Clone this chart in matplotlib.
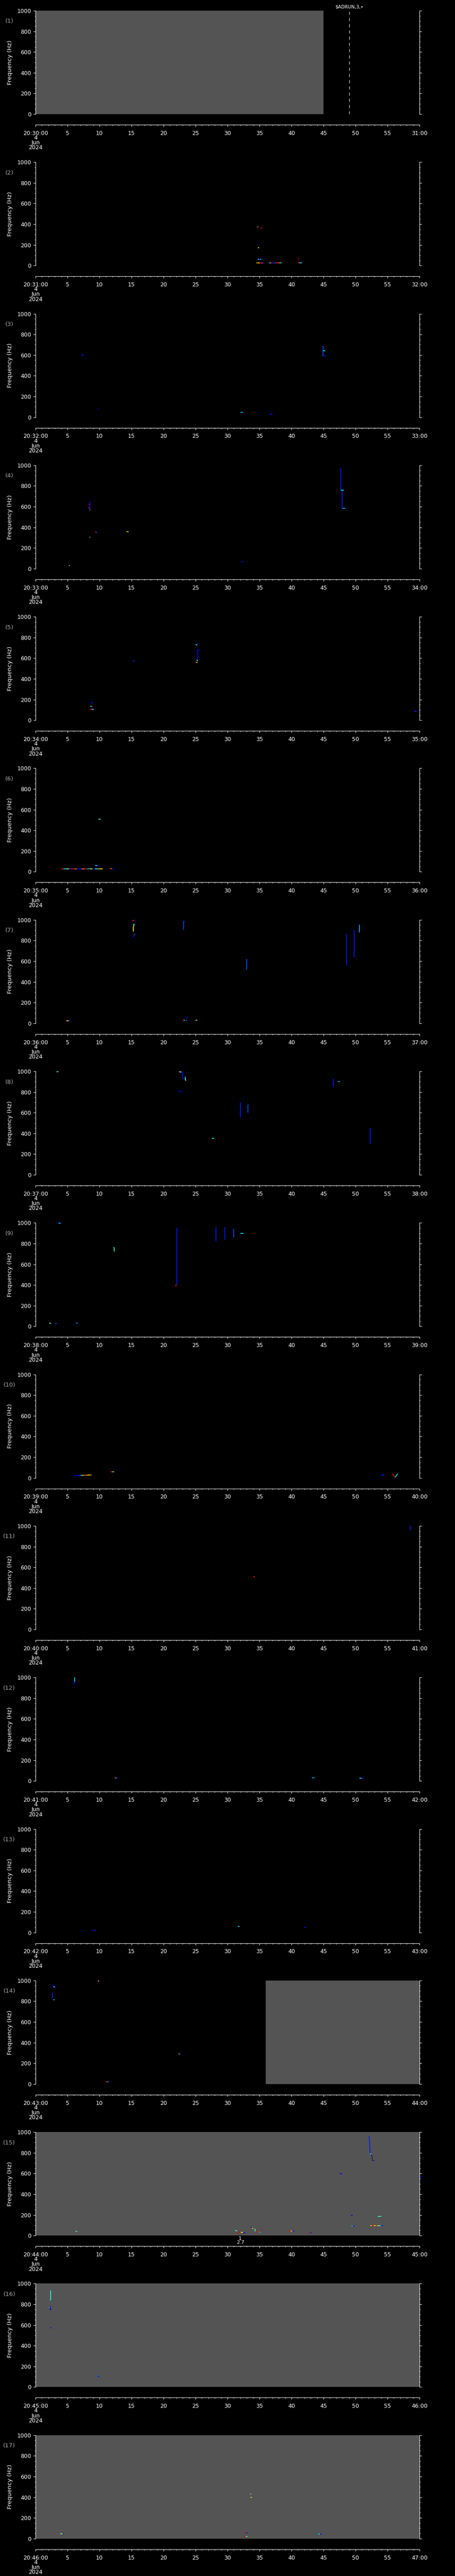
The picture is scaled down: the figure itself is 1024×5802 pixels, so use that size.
import matplotlib
matplotlib.use("Agg")
import matplotlib.pyplot as plt
from matplotlib.ticker import MultipleLocator, FixedLocator, FixedFormatter

plt.rcParams['font.family'] = ['DejaVu Sans']

# ---------------- data ----------------
panel_minutes = list(range(30, 47))          # panels start 20:30 ... 20:46
freq_ticks = [0, 200, 400, 600, 800, 1000]
time_major = list(range(0, 61, 5))
date_label = "4\nJun\n2024"

# gray (no-data) spans in seconds, per panel
gray_01 = [(0, 45)]
gray_14 = [(36, 60)]
gray_15 = [(0, 60)]
gray_16 = [(0, 60)]
gray_17 = [(0, 60)]

marker_time_01 = 49.03
marker_label_01 = "$ADRUN,3,\u2022"

# tracks: (t0 [s], t1 [s], f0 [Hz], f1 [Hz], colour levels 0..1 on jet)
tracks_01 = []
tracks_02 = [
    (34.6, 34.9, 373, 373, [0.3, 0.9]),
    (35.2, 35.45, 366, 364, [0.9]),
    (34.75, 34.95, 175, 172, [0.65]),
    (34.7, 35.5, 60, 60, [0.35, 0.15, 0.35, 0.12]),
    (34.5, 35.8, 27, 25, [0.75, 0.65, 0.9, 0.85, 0.12]),
    (36.5, 37.3, 27, 24, [0.35, 0.9, 0.12]),
    (37.3, 38.5, 29, 29, [0.2, 0.9, 0.8, 0.35]),
    (41.0, 41.2, 68, 62, [0.9, 0.15]),
    (41.0, 41.7, 25, 25, [0.9, 0.35, 0.3]),
]
tracks_03 = [
    (7.3, 7.35, 612, 595, [0.15]),
    (7.35, 7.55, 595, 592, [0.15]),
    (9.63, 9.84, 83, 83, [0.1]),
    (44.9, 44.9, 690, 590, [0.2]),
    (44.9, 45.3, 640, 640, [0.35]),
    (45.0, 45.4, 595, 592, [0.15]),
    (32.0, 32.4, 47, 47, [0.3]),
    (36.6, 37.0, 30, 30, [0.15]),
]
tracks_04 = [
    (8.5, 8.5, 645, 569, [0.12]),
    (8.32, 8.45, 623, 623, [0.9]),
    (8.35, 8.35, 595, 583, [0.9]),
    (8.45, 8.56, 572, 572, [0.65]),
    (8.45, 8.56, 309, 304, [0.25]),
    (8.45, 8.56, 300, 300, [0.75]),
    (9.28, 9.6, 353, 351, [0.9, 0.2]),
    (14.2, 14.55, 359, 356, [0.7, 0.55]),
    (5.2, 5.35, 28, 28, [0.5]),
    (47.7, 47.7, 975, 760, [0.15]),
    (47.9, 47.9, 760, 580, [0.15]),
    (47.7, 48.2, 760, 760, [0.35]),
    (48.0, 48.4, 585, 585, [0.3]),
    (32.2, 32.5, 68, 68, [0.15]),
]
tracks_05 = [
    (8.63, 8.98, 169, 169, [0.15]),
    (8.56, 8.98, 136, 132, [0.5, 0.2]),
    (8.56, 9.26, 102, 102, [0.9, 0.75, 0.35, 0.15]),
    (15.2, 15.5, 571, 573, [0.15]),
    (25.02, 25.25, 733, 725, [0.4]),
    (25.2, 25.5, 737, 737, [0.1]),
    (25.33, 25.33, 683, 580, [0.1]),
    (25.33, 25.65, 683, 676, [0.1]),
    (25.2, 25.33, 585, 570, [0.45]),
    (25.03, 25.3, 562, 556, [0.75, 0.65]),
    (59.2, 59.6, 86, 86, [0.15]),
]
tracks_06 = [
    (4.0, 10.5, 29, 29, [0.9, 0.35, 0.6, 0.2, 0.9, 0.8, 0.1, 0.15, 0.75,
                         0.9, 0.3, 0.6, 0.15, 0.4, 0.7, 0.65]),
    (9.33, 9.9, 60, 57, [0.4, 0.15]),
    (9.84, 10.19, 510, 508, [0.6, 0.35]),
    (11.64, 12.22, 31, 29, [0.78, 0.12]),
]
tracks_07 = [
    (15.1, 15.45, 990, 996, [0.9]),
    (15.45, 15.75, 998, 998, [0.1]),
    (15.25, 15.25, 932, 887, [0.65]),
    (15.35, 15.35, 961, 930, [0.55]),
    (15.35, 15.6, 961, 950, [0.35, 0.15]),
    (15.25, 15.3, 830, 845, [0.15]),
    (15.3, 15.6, 855, 858, [0.2]),
    (23.1, 23.1, 903, 989, [0.2]),
    (23.1, 23.35, 985, 982, [0.15]),
    (4.7, 5.4, 24, 24, [0.9, 0.65, 0.35, 0.15]),
    (23.0, 23.35, 28, 28, [0.9, 0.4]),
    (23.45, 23.7, 28, 28, [0.2]),
    (23.55, 23.85, 53, 53, [0.1]),
    (25.0, 25.3, 28, 28, [0.5]),
    (48.6, 48.6, 860, 560, [0.15]),
    (49.8, 49.8, 900, 640, [0.15]),
    (50.6, 50.6, 950, 880, [0.3]),
    (33.0, 33.0, 620, 520, [0.2]),
]
tracks_08 = [
    (3.26, 3.6, 998, 997, [0.4]),
    (22.4, 22.75, 998, 998, [0.75, 0.65]),
    (22.6, 22.95, 990, 996, [0.3, 0.15]),
    (22.98, 22.98, 995, 932, [0.12]),
    (22.98, 23.2, 932, 932, [0.12]),
    (23.38, 23.38, 948, 914, [0.4]),
    (23.38, 23.56, 914, 914, [0.5]),
    (22.4, 22.95, 808, 805, [0.1]),
    (27.6, 27.9, 353, 353, [0.35]),
    (32.0, 32.0, 700, 560, [0.15]),
    (33.2, 33.2, 680, 600, [0.2]),
    (46.5, 46.5, 930, 850, [0.15]),
    (47.2, 47.6, 900, 900, [0.3]),
    (52.3, 52.3, 450, 300, [0.15]),
]
tracks_09 = [
    (3.54, 4.05, 997, 997, [0.2, 0.35, 0.15]),
    (12.15, 12.3, 761, 761, [0.4]),
    (12.3, 12.3, 761, 722, [0.4]),
    (22.08, 22.08, 944, 403, [0.15]),
    (22.06, 22.2, 944, 944, [0.15]),
    (21.97, 21.97, 403, 382, [0.9]),
    (2.15, 2.45, 32, 30, [0.65, 0.35]),
    (3.03, 3.3, 27, 27, [0.2]),
    (6.35, 6.6, 32, 32, [0.25]),
    (28.2, 28.2, 960, 820, [0.15]),
    (29.6, 29.6, 960, 840, [0.15]),
    (31.0, 31.0, 940, 860, [0.2]),
    (32.0, 32.5, 900, 900, [0.35]),
]
tracks_10 = [
    (5.97, 6.9, 20, 22, [0.1]),
    (6.9, 8.75, 24, 28, [0.25, 0.6, 0.8, 0.75, 0.65, 0.7]),
    (11.76, 12.38, 57, 57, [0.9, 0.75, 0.65, 0.2]),
    (55.8, 56.2, 40, 5, [0.9]),
    (56.2, 56.6, 5, 40, [0.35]),
    (54.0, 54.5, 30, 30, [0.15]),
]
tracks_11 = [
    (34.0, 34.3, 510, 510, [0.9]),
    (58.6, 58.6, 1000, 960, [0.15]),
]
tracks_12 = [
    (6.12, 6.12, 1000, 958, [0.35]),
    (6.03, 6.03, 961, 930, [0.1]),
    (12.38, 12.9, 30, 28, [0.78, 0.15]),
    (43.2, 43.6, 30, 30, [0.3]),
    (50.6, 51.3, 28, 28, [0.35, 0.15]),
]
tracks_13 = [
    (8.9, 9.45, 18, 18, [0.12]),
    (31.6, 31.9, 60, 60, [0.35]),
    (42.0, 42.3, 50, 50, [0.15]),
]
tracks_14 = [
    (2.68, 2.68, 962, 940, [0.1]),
    (2.8, 3.03, 940, 940, [0.45]),
    (3.0, 3.1, 940, 925, [0.12]),
    (2.64, 2.64, 885, 826, [0.15]),
    (2.75, 3.08, 815, 815, [0.4, 0.2]),
    (9.63, 9.9, 995, 995, [0.9, 0.5]),
    (10.95, 11.53, 20, 20, [0.9, 0.85, 0.3, 0.15]),
    (22.34, 22.7, 290, 290, [0.6, 0.12]),
]
tracks_15 = [
    (6.25, 6.5, 43, 38, [0.45]),
    (31.2, 31.5, 52, 42, [0.4]),
    (31.6, 32.1, 33, 32, [0.9]),
    (32.1, 32.4, 29, 29, [0.65]),
    (32.4, 32.8, 26, 26, [0.12]),
    (33.65, 33.8, 83, 76, [0.1]),
    (33.8, 34.05, 73, 66, [0.7]),
    (34.3, 34.3, 65, 40, [0.4]),
    (34.4, 34.9, 36, 36, [0.9, 0.85]),
    (34.9, 35.2, 31, 30, [0.2, 0.35]),
    (39.6, 40.4, 44, 44, [0.9, 0.7, 0.12]),
    (42.7, 43.1, 26, 26, [0.9, 0.12]),
    (47.5, 47.9, 598, 598, [0.12]),
    (49.3, 49.55, 190, 198, [0.1]),
    (49.4, 49.8, 93, 90, [0.35, 0.12]),
    (52.15, 52.3, 961, 793, [0.15]),
    (52.3, 52.45, 793, 786, [0.4]),
    (52.45, 52.6, 782, 765, [0.12]),
    (52.55, 52.7, 717, 712, [0.65]),
    (52.7, 53.0, 722, 722, [0.12]),
    (52.3, 54.3, 96, 95, [0.7, 0.9, 0.65, 0.85, 0.6, 0.35, 0.12]),
    (53.5, 54.0, 186, 186, [0.4]),
]
black_line_15 = (52.6, 765, 714)
tracks_16 = [
    (2.36, 2.36, 931, 841, [0.4]),
    (2.2, 2.36, 841, 841, [0.4]),
    (2.13, 2.3, 772, 768, [0.45]),
    (2.3, 2.3, 782, 750, [0.12]),
    (2.3, 2.52, 750, 750, [0.12]),
    (2.27, 2.5, 572, 572, [0.12]),
    (9.56, 9.93, 110, 100, [0.2, 0.1]),
]
tracks_17 = [
    (3.9, 4.4, 46, 46, [0.65, 0.35, 0.15]),
    (33.55, 33.7, 433, 430, [0.4]),
    (33.6, 33.8, 400, 397, [0.65]),
    (32.6, 33.1, 56, 55, [0.9, 0.12]),
    (32.6, 33.1, 20, 20, [0.9, 0.45]),
    (44.2, 44.7, 45, 44, [0.35, 0.1]),
]
annot_time_15 = 32.0
annot_text_15 = "1\n2.7"

all_tracks = [tracks_01, tracks_02, tracks_03, tracks_04, tracks_05, tracks_06,
              tracks_07, tracks_08, tracks_09, tracks_10, tracks_11, tracks_12,
              tracks_13, tracks_14, tracks_15, tracks_16, tracks_17]
all_gray = {1: gray_01, 14: gray_14, 15: gray_15, 16: gray_16, 17: gray_17}

# ---------------- layout ----------------
W, H, DPI = 1024, 5802, 100
SLOT = H / len(panel_minutes)
AX_LEFT, AX_W, AX_TOP_OFF, AX_H = 80, 864, 24, 233
GRAY = '#545454'
PX = 72.0 / DPI   # points per pixel
cmap = plt.get_cmap('jet')

fig = plt.figure(figsize=(W / DPI, H / DPI), dpi=DPI, facecolor='black')


def draw_track(ax, seg):
    t0, t1, f0, f1, cs = seg
    n = len(cs)
    for i, c in enumerate(cs):
        a, b = i / n, (i + 1) / n
        ax.plot([t0 + (t1 - t0) * a, t0 + (t1 - t0) * b],
                [f0 + (f1 - f0) * a, f0 + (f1 - f0) * b],
                color=cmap(c), lw=1.3, solid_capstyle='butt', zorder=3)


for k, minute in enumerate(panel_minutes):
    top = k * SLOT + AX_TOP_OFF
    ax = fig.add_axes([AX_LEFT / W, 1 - (top + AX_H) / H, AX_W / W, AX_H / H])
    ax.set_facecolor('black')
    ax.set_xlim(0, 60)
    ax.set_ylim(0, 1000)

    for (s0, s1) in all_gray.get(k + 1, []):
        ax.axvspan(s0, s1, color=GRAY, lw=0, zorder=1)

    for seg in all_tracks[k]:
        draw_track(ax, seg)

    ax.spines['top'].set_visible(False)
    for side in ('left', 'right', 'bottom'):
        ax.spines[side].set_color('white')
        ax.spines[side].set_linewidth(PX)
    ax.spines['bottom'].set_position(('outward', 24 * PX))

    ax.yaxis.set_major_locator(FixedLocator(freq_ticks))
    ax.yaxis.set_minor_locator(MultipleLocator(50))
    ax.xaxis.set_major_locator(FixedLocator(time_major))
    ax.xaxis.set_minor_locator(MultipleLocator(1))
    labels = [f"20:{minute:02d}:00"] + [str(s) for s in time_major[1:-1]] + [f"{minute + 1:02d}:00"]
    ax.xaxis.set_major_formatter(FixedFormatter(labels))
    ax.tick_params(axis='y', which='both', left=True, right=True, labelright=False,
                   direction='out', colors='white', width=PX, labelsize=9)
    ax.tick_params(axis='y', which='major', length=4.7 * PX, pad=5 * PX)
    ax.tick_params(axis='y', which='minor', length=2.2 * PX)
    ax.tick_params(axis='x', which='both', direction='out', colors='white',
                   width=PX, labelsize=9)
    ax.tick_params(axis='x', which='major', length=4.3 * PX, pad=8.5 * PX)
    ax.tick_params(axis='x', which='minor', length=2.3 * PX)

    ax.annotate(date_label, xy=(0, 0), xycoords=('data', 'axes fraction'),
                xytext=(0, -47), textcoords='offset pixels', ha='center', va='top',
                fontsize=9, color='white', linespacing=0.82, annotation_clip=False)

    ax.text((21 - AX_LEFT) / AX_W, 1 - 24 / AX_H, f"({k + 1})", transform=ax.transAxes,
            ha='center', va='center', fontsize=9.5, color='#a8a8a8')
    ax.text((23 - AX_LEFT) / AX_W, 0.5, "Frequency (Hz)", transform=ax.transAxes,
            ha='center', va='center', rotation=90, fontsize=9.5, color='white')

    if k == 0:
        ax.axvline(marker_time_01, ymin=0, ymax=1 - 2 / AX_H, color='white',
                   lw=PX, ls=(0, (7, 7)), zorder=4)
        ax.annotate(marker_label_01, xy=(marker_time_01, 1), xycoords=('data', 'axes fraction'),
                    xytext=(0, 8), textcoords='offset pixels', ha='center', va='center',
                    fontsize=7.5, color='white', annotation_clip=False, parse_math=False)
    if k == 14:
        ax.plot([black_line_15[0], black_line_15[0]], black_line_15[1:], color='black',
                lw=0.7, zorder=3)
        ax.plot([60.1, 60.25], [573, 568], color=cmap(0.15), lw=1.3, clip_on=False)
        ax.annotate(annot_text_15, xy=(annot_time_15, 0), xycoords=('data', 'axes fraction'),
                    xytext=(0, -2), textcoords='offset pixels', ha='center', va='top',
                    fontsize=8, color='white', linespacing=0.85, annotation_clip=False)

fig.savefig('out.png', dpi=DPI, facecolor='black')
